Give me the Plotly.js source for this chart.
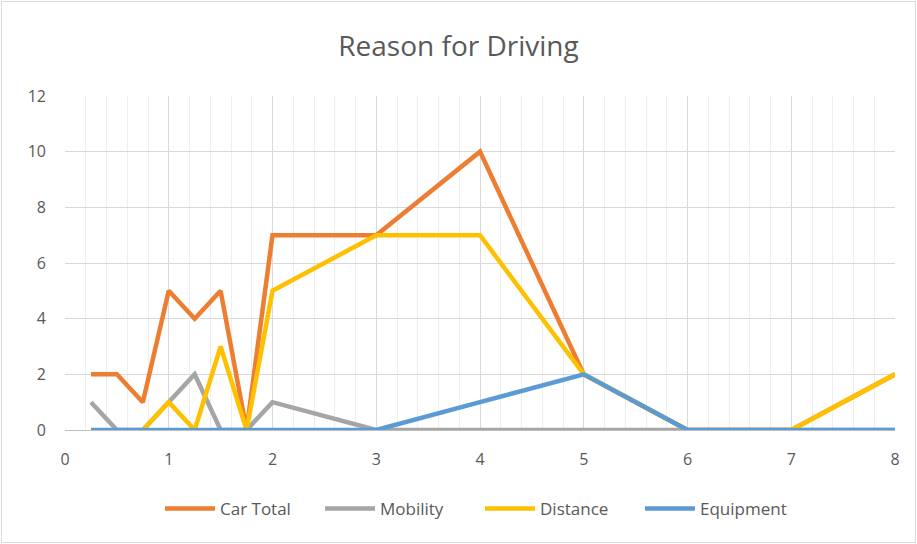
<!DOCTYPE html>
<html>
<head>
<meta charset="utf-8">
<script src="https://cdn.plot.ly/plotly-3.0.1.min.js"></script>
<style>
  html, body { margin: 0; padding: 0; background: #fff; }
  #wrap { position: relative; width: 917px; height: 544px; }
  #chart { width: 917px; height: 544px; }
  #frame { position: absolute; left: 1px; top: 1px; width: 913px; height: 540px; border: 1px solid #d9d9d9; pointer-events: none; }
</style>
</head>
<body>
<div id="wrap"><div id="chart"></div><div id="frame"></div></div>
<script>
const xValues   = [0.25, 0.5, 0.75, 1, 1.25, 1.5, 1.75, 2, 3, 4, 5, 6, 7, 8];
const carTotal  = [2, 2, 1, 5, 4, 5, 0, 7, 7, 10, 2, 0, 0, 2];
const mobility  = [1, 0, 0, 1, 2, 0, 0, 1, 0, 0, 0, 0, 0, 0];
const distance  = [null, null, 0, 1, 0, 3, 0, 5, 7, 7, 2, 0, 0, 2];
const equipment = [0, 0, 0, 0, 0, 0, 0, 0, 0, 1, 2, 0, 0, 0];
const seriesNames = ['Car Total', 'Mobility', 'Distance', 'Equipment'];
const seriesColors = ['#ED7D31', '#A5A5A5', '#FFC000', '#5B9BD5'];
const seriesData = [carTotal, mobility, distance, equipment];

const traces = seriesData.map((ys, i) => ({
  type: 'scatter', mode: 'lines', name: seriesNames[i],
  x: xValues, y: ys,
  line: { color: seriesColors[i], width: 4.5 },
  connectgaps: false
}));

const layout = {
  width: 917, height: 544,
  paper_bgcolor: '#fff', plot_bgcolor: '#fff',
  margin: { l: 65, r: 22, t: 96, b: 114 },
  font: { family: 'Open Sans, Liberation Sans, sans-serif', color: '#595959', size: 14 },
  title: { text: 'Reason for Driving', x: 0.5, xanchor: 'center', y: 0.915, yanchor: 'middle',
           font: { size: 28, color: '#595959', family: 'Open Sans, sans-serif' } },
  xaxis: {
    range: [0, 8], dtick: 1, tick0: 0, showgrid: true, gridcolor: '#d9d9d9', gridwidth: 1,
    zeroline: false, showline: true, linecolor: '#bfbfbf', ticks: '', ticklabelstandoff: 15,
    tickfont: { size: 16, color: '#595959' },
    minor: { dtick: 0.2, tick0: 0, showgrid: true, gridcolor: '#eeeeee', gridwidth: 1 }
  },
  yaxis: {
    range: [0, 12], dtick: 2, tick0: 0, showgrid: true, gridcolor: '#d9d9d9', gridwidth: 1,
    zeroline: false, showline: false, ticks: '', ticklabelstandoff: 18,
    tickfont: { size: 16, color: '#595959' }
  },
  showlegend: true,
  legend: { orientation: 'h', x: 0.5, xanchor: 'center', y: -0.2365, yanchor: 'middle',
            font: { size: 17, color: '#595959' }, itemwidth: 50, entrywidth: 95, traceorder: 'normal' }
};

Plotly.newPlot('chart', traces, layout, { displayModeBar: false, staticPlot: true });
</script>
</body>
</html>
